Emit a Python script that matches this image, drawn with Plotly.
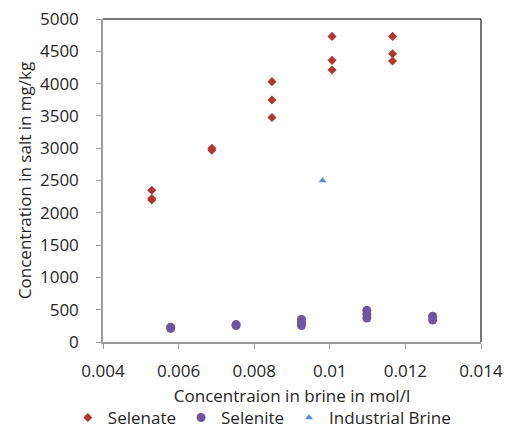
import plotly.graph_objects as go

selenate_x = [0.00529, 0.00529, 0.00529, 0.00688, 0.00688, 0.00847, 0.00847, 0.00847,
              0.01006, 0.01006, 0.01006, 0.01166, 0.01166, 0.01166]
selenate_y = [2350, 2220, 2200, 3000, 2970, 4030, 3745, 3476,
              4731, 4360, 4210, 4731, 4463, 4349]

selenite_x = [0.00579, 0.00579, 0.00752, 0.00752, 0.00925, 0.00925, 0.00925,
              0.01098, 0.01098, 0.01098, 0.01272, 0.01272]
selenite_y = [230, 210, 270, 255, 350, 300, 255, 490, 430, 370, 400, 340]

brine_x = [0.00981]
brine_y = [2500]

x_ticks = [0.004, 0.006, 0.008, 0.01, 0.012, 0.014]
x_ticklabels = ["0.004", "0.006", "0.008", "0.01", "0.012", "0.014"]
y_ticks = [0, 500, 1000, 1500, 2000, 2500, 3000, 3500, 4000, 4500, 5000]

font = "Open Sans, Liberation Sans, sans-serif"

fig = go.Figure()
fig.add_trace(go.Scatter(x=selenate_x, y=selenate_y, mode="markers", name="Selenate",
                         marker=dict(symbol="diamond", size=7, color="#B3372C")))
fig.add_trace(go.Scatter(x=selenite_x, y=selenite_y, mode="markers", name="Selenite",
                         marker=dict(symbol="circle", size=9, color="#6E55A0")))
fig.add_trace(go.Scatter(x=brine_x, y=brine_y, mode="markers", name="Industrial Brine",
                         marker=dict(symbol="triangle-up", size=7, color="#5A90CF")))

axis_common = dict(showgrid=False, zeroline=False, showline=True, linecolor="#9a9a9a",
                   linewidth=1.5, mirror=False, ticks="outside", ticklen=5,
                   tickcolor="#9a9a9a", tickfont=dict(size=17, color="#262626"),
                   automargin=False, ticklabeloverflow="allow")

fig.update_layout(
    width=506, height=429,
    margin=dict(l=103, r=25, t=19, b=87, autoexpand=False),
    paper_bgcolor="white", plot_bgcolor="white",
    font=dict(family=font, size=17, color="#262626"),
    showlegend=True,
    legend=dict(orientation="h", xref="paper", yref="paper",
                x=-0.093, xanchor="left", y=-0.235, yanchor="middle",
                font=dict(size=17), itemwidth=30, tracegroupgap=0,
                bgcolor="rgba(0,0,0,0)"),
    xaxis=dict(range=[0.004, 0.014], tickvals=x_ticks, ticktext=x_ticklabels,
               ticklabelstandoff=8,
               title=dict(text="Concentraion in brine in mol/l", font=dict(size=17), standoff=9),
               **axis_common),
    yaxis=dict(range=[0, 5000], tickvals=y_ticks, ticklabelstandoff=14,
               title=dict(text="Concentration in salt in mg/kg", font=dict(size=17), standoff=4),
               **axis_common),
    shapes=[
        dict(type="line", xref="paper", yref="paper", x0=0, x1=1, y0=1, y1=1,
             line=dict(color="#4a4a4a", width=1.5)),
        dict(type="line", xref="paper", yref="paper", x0=1, x1=1, y0=0, y1=1,
             line=dict(color="#4a4a4a", width=1.5)),
    ],
)

fig.write_html("out.html", config={"displayModeBar": False},
               post_script="document.body.style.margin='0';document.body.style.overflow='hidden';")
